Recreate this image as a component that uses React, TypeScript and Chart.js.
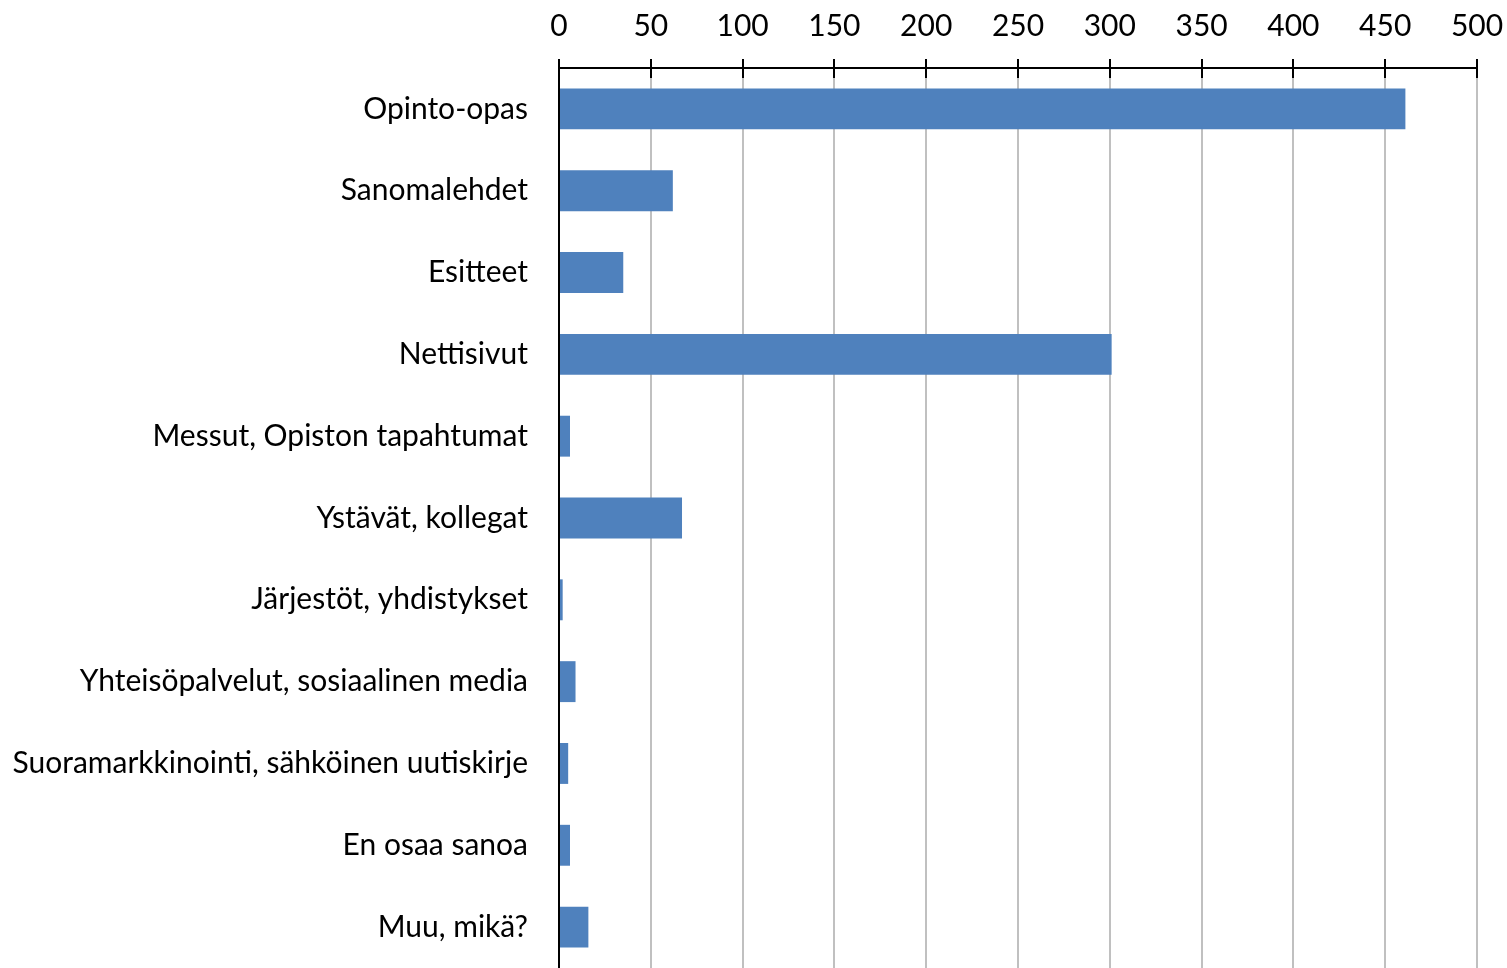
import React, { useEffect, useRef } from "react";
import { Chart, registerables } from "chart.js";

Chart.register(...registerables);

const categories = [
  "Opinto-opas",
  "Sanomalehdet",
  "Esitteet",
  "Nettisivut",
  "Messut, Opiston tapahtumat",
  "Ystävät, kollegat",
  "Järjestöt, yhdistykset",
  "Yhteisöpalvelut, sosiaalinen media",
  "Suoramarkkinointi, sähköinen uutiskirje",
  "En osaa sanoa",
  "Muu, mikä?",
];
const values = [461, 62, 35, 301, 6, 67, 2, 9, 5, 6, 16];
const xMin = 0;
const xMax = 500;
const xStep = 50;

const FONT = "Lato";

const crossTicks = {
  id: "crossTicks",
  afterDraw(chart: any) {
    const x = chart.scales.x;
    const ctx = chart.ctx;
    const top = chart.chartArea.top;
    ctx.save();
    ctx.strokeStyle = "#000";
    ctx.lineWidth = 2;
    x.ticks.forEach((t: any) => {
      const px = Math.round(x.getPixelForValue(t.value));
      ctx.beginPath();
      ctx.moveTo(px, top - 1);
      ctx.lineTo(px, top + 10);
      ctx.stroke();
    });
    ctx.restore();
  },
};

export default function App() {
  const ref = useRef<HTMLCanvasElement>(null);
  useEffect(() => {
    if (!ref.current) return;
    const chart = new Chart(ref.current, {
      type: "bar",
      data: {
        labels: categories,
        datasets: [
          {
            data: values,
            backgroundColor: "#4f81bd",
            barPercentage: 0.5,
            categoryPercentage: 1,
          },
        ],
      },
      options: {
        indexAxis: "y",
        animation: false,
        responsive: false,
        layout: { padding: { left: 0, right: 30, top: 0, bottom: -2 } },
        plugins: { legend: { display: false }, tooltip: { enabled: false } },
        scales: {
          x: {
            position: "top",
            min: xMin,
            max: xMax,
            ticks: {
              stepSize: xStep,
              color: "#000",
              font: { family: FONT, size: 30 },
              padding: 15,
            },
            grid: {
              color: "#c0c0c0",
              lineWidth: 2,
              drawTicks: true,
              tickLength: 9,
              tickColor: "#000",
              tickWidth: 2,
            },
            border: { color: "#000", width: 2 },
            afterFit: (s: any) => {
              s.height = 68;
              s.paddingLeft = 0;
              s.paddingRight = 0;
            },
          },
          y: {
            ticks: {
              color: "#000",
              font: { family: FONT, size: 30 },
              padding: 31,
            },
            grid: { display: false, drawTicks: false },
            border: { color: "#000", width: 2 },
            afterFit: (s: any) => {
              s.width = 559;
              s.paddingTop = 0;
              s.paddingBottom = 0;
            },
          },
        },
      },
      plugins: [crossTicks],
    });
    return () => chart.destroy();
  }, []);
  return (
    <div style={{ position: "fixed", left: 0, top: 0, width: 1507, height: 968, background: "#fff" }}>
      <canvas ref={ref} width={1507} height={968} style={{ width: 1507, height: 968, display: "block" }} />
    </div>
  );
}
